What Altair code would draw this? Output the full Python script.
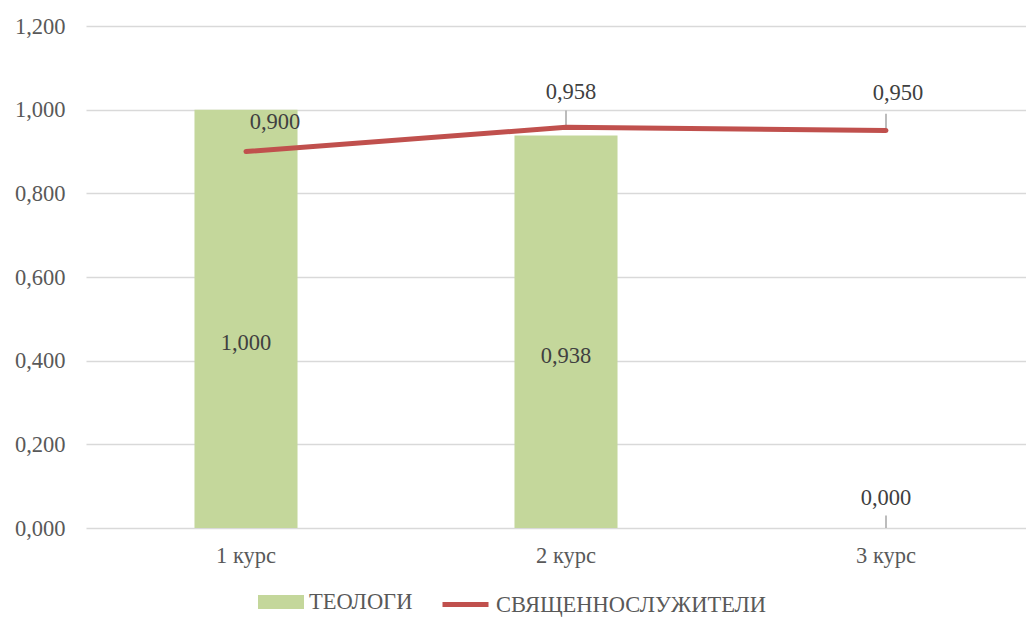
import altair as alt
import pandas as pd

categories = ["1 курс", "2 курс", "3 курс"]
theologians = [1.000, 0.938, 0.000]
clergy = [0.900, 0.958, 0.950]
series_names = ["ТЕОЛОГИ", "СВЯЩЕННОСЛУЖИТЕЛИ"]
y_ticks = [0, 0.2, 0.4, 0.6, 0.8, 1.0, 1.2]

GREEN = "#C4D79B"
RED = "#C0504D"
FONT = "Liberation Serif, Times New Roman, serif"
FS = 22.5
TXT = "#404040"
AX = "#595959"

bars = pd.DataFrame({"cat": categories, "v": theologians, "s": series_names[0]})
line = pd.DataFrame({"cat": categories, "v": clergy, "s": series_names[1]})

fmt = "replace(format(datum.v, '.3f'), '.', ',')"

x = alt.X("cat:N", sort=categories, title=None,
          scale=alt.Scale(paddingInner=0.678, paddingOuter=0.339),
          axis=alt.Axis(labelAngle=0))
y = alt.Y("v:Q", title=None,
          scale=alt.Scale(domain=[0, 1.2]),
          axis=alt.Axis(values=y_ticks, labelExpr="replace(format(datum.value, '.3f'), '.', ',')"))
xs = alt.X("cat:N", sort=categories, title=None)

def ys(field):
    return alt.Y(field, title=None)

common_leg = dict(orient="none", direction="horizontal", labelFont=FONT, labelFontSize=FS,
                  labelColor=AX, symbolSize=2116, symbolOpacity=1, labelOffset=5,
                  labelLimit=0, padding=0, legendY=553)

bar_color = alt.Color("s:N", title=None,
                      scale=alt.Scale(domain=[series_names[0]], range=[GREEN]),
                      legend=alt.Legend(symbolType="M-1,-0.3L1,-0.3L1,0.3L-1,0.3Z",
                                        symbolStrokeWidth=0, legendX=172, **common_leg))
line_color = alt.Color("s:N", title=None,
                       scale=alt.Scale(domain=[series_names[1]], range=[RED]),
                       legend=alt.Legend(symbolType="stroke", symbolStrokeWidth=5,
                                         legendX=354, **common_leg))

bar_layer = alt.Chart(bars).mark_bar().encode(x=x, y=y, color=bar_color)

line_layer = alt.Chart(line).mark_line(strokeWidth=5, strokeCap="round").encode(
    x=x, y=y, color=line_color)

bar_text = alt.Chart(bars).transform_filter("datum.v > 0").transform_calculate(
    lbl=fmt, half="datum.v / 2").mark_text(font=FONT, fontSize=FS, color=TXT, dy=24).encode(
    x=xs, y=ys("half:Q"), text="lbl:N")

zero_text = alt.Chart(bars).transform_filter("datum.v == 0").transform_calculate(
    lbl=fmt).mark_text(font=FONT, fontSize=FS, color=TXT, dy=-30).encode(
    x=xs, y=ys("v:Q"), text="lbl:N")

zero_leader = alt.Chart(bars).transform_filter("datum.v == 0").transform_calculate(
    top="datum.v + 0.03").mark_rule(color="#A6A6A6", strokeWidth=1.5).encode(
    x=xs, y=ys("v:Q"), y2="top:Q")

def line_label(cat, dx, dy):
    return alt.Chart(line).transform_filter(alt.datum.cat == cat).transform_calculate(
        lbl=fmt).mark_text(font=FONT, fontSize=FS, color=TXT, dx=dx, dy=dy).encode(
        x=xs, y=ys("v:Q"), text="lbl:N")

leaders = alt.Chart(line).transform_filter("datum.cat != '1 курс'").transform_calculate(
    top="datum.v + 0.04").mark_rule(color="#A6A6A6", strokeWidth=1.5).encode(
    x=xs, y=ys("v:Q"), y2="top:Q")

chart = alt.layer(
    bar_layer, bar_text, zero_leader, zero_text, leaders, line_layer,
    line_label("1 курс", 29, -30), line_label("2 курс", 5, -35), line_label("3 курс", 12, -38),
).resolve_scale(color="independent").resolve_legend(color="independent").properties(
    width=960, height=502, autosize=alt.AutoSizeParams(type="none"),
    padding={"left": 78, "top": 18, "right": -20, "bottom": 90}
).configure_view(stroke=None).configure_axis(
    labelFont=FONT, labelFontSize=FS, labelColor=AX, ticks=False, domain=False
).configure_axisX(labelPadding=16, grid=False).configure_axisY(
    labelPadding=21, gridColor="#D9D9D9", gridWidth=1.5)

chart.save("out.html", embed_options={"renderer": "svg", "actions": False})
